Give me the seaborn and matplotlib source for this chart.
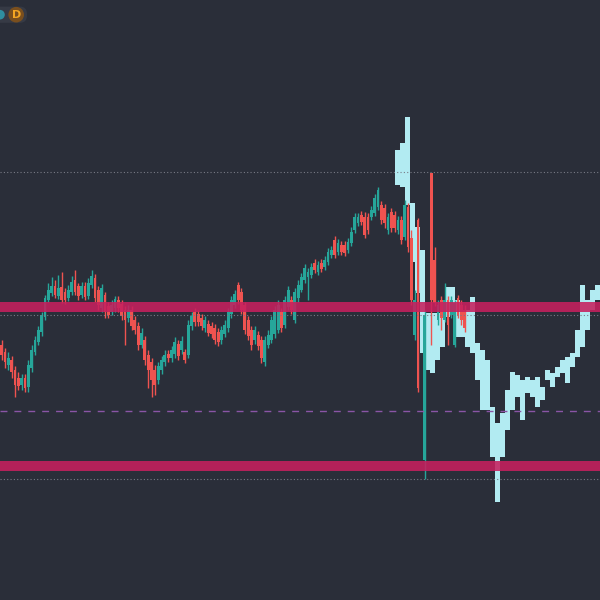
import numpy as np
import matplotlib
matplotlib.use("Agg")
import matplotlib.pyplot as plt
from matplotlib.patches import FancyBboxPatch, Circle
import seaborn as sns

# candles (price units), NaN = no bar at that slot
opens = [255, 248, 235, 240, 230, 222, 215, 222, 213, 232, 248, 258, 268, 283, 300, 307, 314, 304, 313, 308,
         302, 308, 320, 314, 305, 314, 304, 315, 322, 310, 292, 305, 294, 288, 292, 300, 296, 290, 282, 290,
         280, 274, 255, 260, 245, 238, 230, 220, 230, 238, 246, 242, 246, 256, 250, 248, 245, 274, 288, 286,
         282, 272, 276, 274, 272, 268, 260, 266, 272, 286, 295, 315, 308, 295, 280, 270, 260, 265, 260, 238,
         255, 260, 266, 270, 288, 275, 293, 300, 280, 302, 310, 320, 323, 325, 337, 328, 337, 333, 338, 345,
         360, 348, 355, 355, 350, 357, 370, 377, 385, 383, 383, 383, 387, 393, 395, 392, 370, 388, 385, 370,
         380, 363, 393, 362, 265, 380, np.nan, 140, np.nan, 427, 340, 280, 300, 280, 300, 285, 255, 302, 295, 290]
highs = [260, 252, 248, 244, 234, 228, 226, 226, 240, 255, 264, 274, 288, 305, 317, 323, 320, 325, 328, 312,
         315, 324, 330, 317, 318, 318, 322, 330, 326, 314, 316, 308, 298, 300, 304, 304, 300, 294, 295, 294,
         284, 278, 272, 264, 250, 242, 235, 238, 244, 250, 250, 254, 263, 260, 264, 251, 280, 288, 292, 290,
         286, 284, 280, 278, 276, 272, 274, 280, 292, 304, 310, 318, 312, 298, 284, 274, 274, 269, 264, 264,
         270, 284, 294, 300, 292, 304, 314, 304, 312, 320, 327, 336, 332, 337, 341, 339, 341, 344, 352, 354,
         364, 361, 359, 359, 362, 373, 387, 387, 389, 388, 387, 394, 406, 413, 399, 396, 387, 392, 389, 384,
         384, 400, 397, 370, 310, 382, np.nan, 290, np.nan, 427, 353, 300, 304, 317, 304, 304, 300, 305, 300, 295]
lows = [240, 232, 230, 222, 203, 210, 210, 208, 208, 228, 245, 255, 264, 280, 298, 304, 302, 301, 297, 296,
        299, 305, 305, 300, 302, 300, 301, 312, 298, 290, 288, 282, 282, 285, 288, 288, 280, 255, 278, 270,
        266, 250, 252, 235, 212, 203, 205, 216, 226, 234, 238, 238, 242, 240, 246, 237, 242, 270, 274, 274,
        270, 268, 264, 262, 256, 254, 256, 263, 268, 282, 292, 296, 286, 266, 260, 250, 256, 250, 237, 234,
        252, 257, 262, 267, 268, 272, 290, 286, 277, 298, 308, 317, 300, 322, 327, 325, 328, 330, 335, 342,
        342, 345, 345, 344, 347, 354, 367, 374, 375, 362, 366, 380, 384, 390, 376, 372, 366, 368, 368, 366,
        356, 360, 348, 295, 260, 208, np.nan, 121, np.nan, 255, 294, 275, 270, 278, 255, 282, 253, 282, 275, 268]
closes = [245, 238, 242, 228, 215, 214, 222, 212, 235, 250, 260, 270, 285, 302, 310, 314, 305, 312, 300, 300,
          310, 318, 308, 304, 314, 303, 317, 324, 302, 295, 312, 288, 285, 295, 301, 292, 284, 280, 290, 274,
          270, 255, 267, 240, 230, 220, 215, 234, 240, 245, 242, 250, 258, 244, 259, 240, 275, 284, 278, 278,
          274, 280, 267, 266, 260, 258, 270, 275, 288, 300, 306, 300, 290, 270, 264, 255, 270, 254, 242, 260,
          265, 280, 290, 295, 272, 300, 310, 290, 308, 315, 323, 332, 328, 333, 330, 335, 331, 340, 348, 350,
          345, 357, 348, 347, 358, 368, 383, 383, 378, 365, 370, 390, 402, 410, 380, 377, 383, 372, 372, 380,
          360, 395, 353, 300, 300, 212, np.nan, 285, np.nan, 300, 297, 295, 282, 300, 275, 300, 297, 285, 280, 272]

# projected range bars (light cyan), 1.5-bar step starting at bar 118.9
proj_high = [450, 457, 483, 397, 373, 350, 287, 287, 287, 300, 313, 313, 300, 290, 290, 303, 257, 250, 240, 193, 177,
             187, 210, 228, 225, 220, 223, 220, 223, 213, 230, 227, 233, 240, 243, 247, 270, 315, 300, 310, 315]
proj_low = [415, 413, 395, 338, 307, 247, 230, 227, 240, 253, 283, 293, 263, 263, 253, 247, 220, 190, 190, 143, 98,
            143, 170, 190, 203, 180, 207, 203, 193, 200, 220, 213, 223, 227, 217, 233, 243, 253, 270, 290, 300]
proj_start = 118.9
proj_step = 1.5

# horizontal levels
zones = [(288, 298), (129, 139)]
dotted_levels = [428, 285, 121]
dashed_level = 189

bg = "#2a2e39"
up_col = "#26a69a"
down_col = "#ef5350"
proj_col = "#b2ebf2"

sns.set_theme(style="dark", rc={"axes.facecolor": bg, "figure.facecolor": bg})

fig = plt.figure(figsize=(6, 6), dpi=100)
ax = fig.add_axes([0, 0, 1, 1])
ax.set_facecolor(bg)

o = np.array(opens, dtype=float)
h = np.array(highs, dtype=float)
l = np.array(lows, dtype=float)
c = np.array(closes, dtype=float)
idx = np.arange(len(o))
up = c >= o
cols = np.where(up, up_col, down_col)

# projection bars
px = proj_start + proj_step * np.arange(len(proj_high))
ph = np.array(proj_high)
pl = np.array(proj_low)
ax.bar(px, ph - pl, bottom=pl, width=proj_step * 0.95, color=proj_col, linewidth=0, zorder=2)

# candles
ok = ~np.isnan(o)
ax.vlines(idx[ok], l[ok], h[ok], colors=cols[ok], linewidth=1.0, zorder=3)
body_lo = np.minimum(o, c)
body_h = np.maximum(np.abs(c - o), 1.0)
ax.bar(idx[ok], body_h[ok], bottom=body_lo[ok], width=0.85, color=cols[ok], linewidth=0, zorder=3)

# levels
for lev in dotted_levels:
    ax.axhline(lev, color="#787b86", linewidth=0.8, linestyle=(0, (1, 2)), zorder=4)
ax.axhline(dashed_level, color="#8a55a6", linewidth=1.0, linestyle=(0, (5, 5)), zorder=4)
for z0, z1 in zones:
    ax.axhspan(z0, z1, color="#c7205e", alpha=0.88, linewidth=0, zorder=5)

ax.set_xlim(-0.51, 179.66)
ax.set_ylim(0, 600)
ax.set_xticks([])
ax.set_yticks([])
for s in ax.spines.values():
    s.set_visible(False)

# interval badge
fig.patches.append(FancyBboxPatch((-0.03, 0.962), 0.075, 0.027, boxstyle="round,pad=0,rounding_size=0.012",
                                  transform=fig.transFigure, facecolor="#363a45", edgecolor="none", zorder=6))
fig.patches.append(Circle((0.0, 0.9755), 0.008, transform=fig.transFigure, facecolor="#2f8fa0",
                          edgecolor="none", zorder=7))
fig.patches.append(Circle((0.027, 0.9755), 0.013, transform=fig.transFigure, facecolor="#7a4f1e",
                          edgecolor="none", zorder=7))
fig.text(0.027, 0.9755, "D", color="#f5a623", fontsize=8, fontweight="bold", ha="center", va="center", zorder=8)

fig.savefig("out.png", dpi=100, facecolor=bg)
